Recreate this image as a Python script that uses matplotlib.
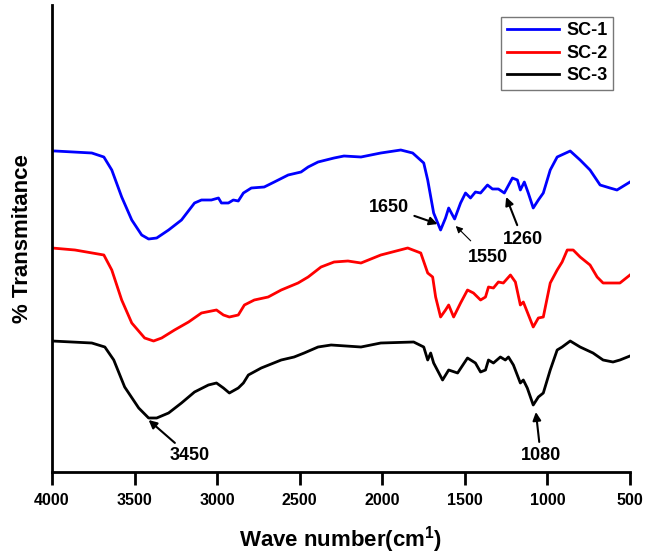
import matplotlib
matplotlib.use("Agg")
import matplotlib.pyplot as plt
import numpy as np

plt.rcParams['font.family'] = ['Liberation Sans', 'DejaVu Sans']
plt.rcParams['mathtext.fontset'] = 'custom'
plt.rcParams['mathtext.bf'] = 'Liberation Sans:bold'
plt.rcParams['mathtext.rm'] = 'Liberation Sans:bold'

# SC-1 (blue)
sc1_wn = [4000, 3982, 3759, 3686, 3638, 3578, 3517, 3457, 3415, 3366, 3294, 3216, 3137, 3095,
          3035, 2992, 2974, 2932, 2902, 2872, 2841, 2793, 2715, 2654, 2570, 2492, 2449, 2389,
          2292, 2232, 2129, 2009, 1888, 1816, 1749, 1725, 1689, 1647, 1617, 1598, 1562, 1526,
          1496, 1466, 1436, 1405, 1363, 1333, 1297, 1261, 1212, 1182, 1164, 1140, 1116, 1086,
          1055, 1025, 983, 941, 862, 802, 742, 681, 621, 579, 500]
sc1_t = [319, 319, 317, 313, 300, 273, 250, 235, 231, 232, 240, 250, 267, 270,
         270, 272, 267, 267, 270, 269, 277, 282, 283, 288, 295, 298, 303, 308,
         312, 314, 313, 317, 320, 317, 307, 290, 257, 240, 252, 262, 251, 267,
         277, 272, 278, 277, 285, 281, 281, 277, 292, 290, 280, 288, 277, 262,
         270, 277, 300, 313, 319, 310, 300, 285, 282, 280, 288]

# SC-2 (red)
sc2_wn = [4000, 3861, 3686, 3638, 3578, 3517, 3439, 3385, 3336, 3258, 3173, 3095, 3004, 2962,
          2926, 2872, 2835, 2775, 2691, 2612, 2510, 2449, 2371, 2292, 2208, 2129, 2009, 1846,
          1767, 1725, 1695, 1677, 1647, 1617, 1598, 1568, 1526, 1484, 1448, 1405, 1375, 1357,
          1327, 1297, 1267, 1224, 1194, 1164, 1146, 1122, 1086, 1055, 1025, 983, 941, 911,
          880, 844, 802, 742, 699, 663, 603, 561, 500]
sc2_t = [222, 220, 215, 200, 170, 147, 132, 129, 132, 140, 148, 157, 160, 155,
         153, 155, 165, 170, 173, 180, 187, 193, 203, 208, 209, 207, 215, 222,
         217, 197, 193, 173, 153, 160, 165, 153, 167, 180, 177, 170, 173, 183,
         182, 188, 187, 195, 188, 165, 168, 158, 143, 152, 153, 187, 200, 208,
         220, 220, 213, 205, 193, 187, 187, 187, 195]

# SC-3 (black)
sc3_wn = [4000, 3759, 3680, 3626, 3560, 3475, 3415, 3366, 3294, 3216, 3137, 3053, 3004, 2962,
          2926, 2872, 2841, 2811, 2733, 2612, 2534, 2473, 2389, 2310, 2129, 2009, 1810, 1749,
          1725, 1707, 1689, 1635, 1598, 1544, 1484, 1436, 1405, 1375, 1357, 1327, 1285, 1255,
          1236, 1206, 1164, 1146, 1122, 1086, 1055, 1025, 983, 941, 911, 862, 802, 724, 663,
          603, 561, 500]
sc3_t = [129, 127, 123, 110, 83, 62, 52, 52, 57, 67, 78, 85, 87, 82,
         77, 82, 87, 95, 102, 110, 113, 117, 123, 125, 123, 127, 128, 123,
         110, 117, 107, 90, 100, 97, 112, 107, 98, 100, 110, 107, 113, 110,
         113, 105, 87, 90, 82, 65, 73, 77, 100, 120, 123, 129, 123, 117, 110,
         108, 110, 114]

xticks = [4000, 3500, 3000, 2500, 2000, 1500, 1000, 500]

W, H = 645, 556
fig = plt.figure(figsize=(W / 100, H / 100), dpi=100)
ax = fig.add_axes([52 / W, (H - 472) / H, 578 / W, 467 / H])

ax.plot(sc1_wn, sc1_t, color='#0000ff', lw=2.0, label='SC-1')
ax.plot(sc2_wn, sc2_t, color='#ff0000', lw=2.0, label='SC-2')
ax.plot(sc3_wn, sc3_t, color='#000000', lw=2.0, label='SC-3')

ax.set_xlim(4000, 500)
ax.set_ylim(-2, 465)
ax.set_xticks(xticks)
ax.set_xticklabels([str(t) for t in xticks], fontsize=11.5, fontweight='bold')
ax.set_yticks([])
ax.spines['top'].set_visible(False)
ax.spines['right'].set_visible(False)
ax.spines['left'].set_linewidth(2)
ax.spines['bottom'].set_linewidth(2)
ax.tick_params(axis='x', direction='out', length=9, width=2, pad=6)

ax.set_xlabel(r'Wave number(cm$^{\mathbf{1}}$)', fontsize=16, fontweight='bold', labelpad=12)
ax.set_ylabel('% Transmitance', fontsize=16, fontweight='bold', labelpad=14)

leg = ax.legend(loc='upper right', bbox_to_anchor=(561 / 578, 1 - 12 / 467),
                prop={'weight': 'bold', 'size': 13}, frameon=True, fancybox=False,
                handlelength=2.9, handletextpad=0.4, borderpad=0.3, labelspacing=0.3,
                borderaxespad=0)
leg.get_frame().set_edgecolor('#555555')
leg.get_frame().set_linewidth(1.0)

ann = dict(fontsize=13, fontweight='bold', ha='center', va='center')
arrow = dict(arrowstyle='-|>', color='black', lw=1.5, mutation_scale=12, shrinkA=2, shrinkB=0)
ax.annotate('1650', xy=(1665, 246), xytext=(1960, 263), arrowprops=arrow, **ann)
ax.annotate('1550', xy=(1555, 244), xytext=(1360, 212),
            arrowprops=dict(arrowstyle='-|>', color='black', lw=0.8, mutation_scale=10,
                            shrinkA=6, shrinkB=0), **ann)
ax.annotate('1260', xy=(1250, 273), xytext=(1150, 231), arrowprops=arrow, **ann)
ax.annotate('3450', xy=(3415, 50), xytext=(3165, 14), arrowprops=arrow, **ann)
ax.annotate('1080', xy=(1070, 58), xytext=(1040, 14), arrowprops=arrow, **ann)

fig.savefig('out.png', dpi=100)
